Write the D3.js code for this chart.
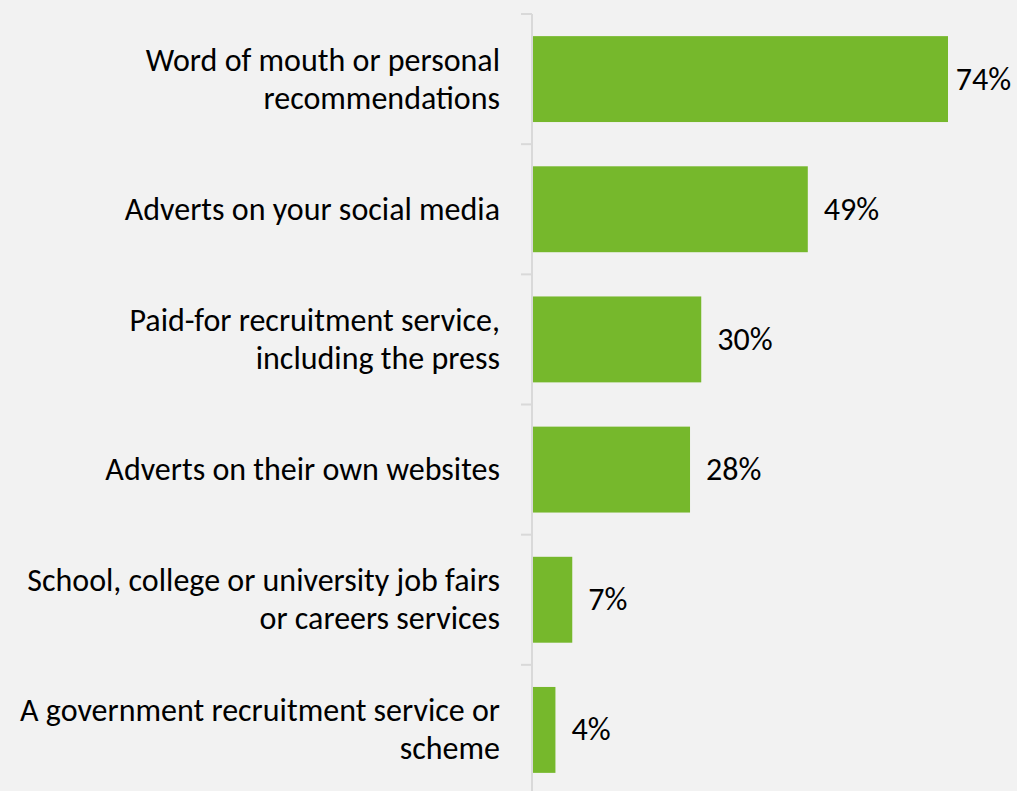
<!DOCTYPE html>
<html>
<head>
<meta charset="utf-8">
<script src="https://cdn.jsdelivr.net/npm/d3@7"></script>
<style>
  html, body { margin: 0; padding: 0; background: #f2f2f2; }
  svg { display: block; }
  text { font-family: Carlito, Calibri, Lato, sans-serif; fill: #000; }
</style>
</head>
<body>
<svg id="chart" width="1017" height="791"></svg>
<script>
// Recruitment channels used (share of respondents, %)
const categories = [
  ["Word of mouth or personal", "recommendations"],
  ["Adverts on your social media"],
  ["Paid-for recruitment service,", "including the press"],
  ["Adverts on their own websites"],
  ["School, college or university job fairs", "or careers services"],
  ["A government recruitment service or", "scheme"]
];
const values = [74, 49, 30, 28, 7, 4];
const valueLabels = ["74%", "49%", "30%", "28%", "7%", "4%"];

const svg = d3.select("#chart");
const width = 1017;
const axisX = 532;
const barColor = "#76b82c";
const fontSize = 32;
const lineGap = 38;

const y = d3.scaleBand()
  .domain(d3.range(categories.length))
  .range([14, 795])
  .paddingInner(0.34)
  .paddingOuter(0.17);

const x = d3.scaleLinear()
  .domain([0, 74])
  .range([axisX + 1, 948]);

// Bars
svg.append("g")
  .selectAll("rect")
  .data(values)
  .join("rect")
  .attr("x", x(0))
  .attr("y", (d, i) => y(i))
  .attr("width", d => x(d) - x(0))
  .attr("height", y.bandwidth())
  .attr("fill", barColor);

// Category axis: vertical line with ticks at band boundaries
const step = y.step();
const bandStart = i => y(i) - y.paddingOuter() * step;
const axisG = svg.append("g").attr("stroke", "#d9d9d9").attr("stroke-width", 2);
axisG.append("line")
  .attr("x1", axisX).attr("x2", axisX)
  .attr("y1", bandStart(0)).attr("y2", 791);
axisG.selectAll("line.tick")
  .data(d3.range(categories.length))
  .join("line")
  .attr("class", "tick")
  .attr("x1", axisX - 11).attr("x2", axisX)
  .attr("y1", i => bandStart(i)).attr("y2", i => bandStart(i));

// Category labels, right-aligned left of the axis
const labels = svg.append("g")
  .selectAll("text")
  .data(categories)
  .join("text")
  .attr("text-anchor", "end")
  .attr("font-size", fontSize)
  .attr("x", 500)
  .attr("y", (d, i) => y(i) + y.bandwidth() / 2);
labels.each(function(lines) {
  const t = d3.select(this);
  const first = -(lines.length - 1) / 2 * lineGap;
  lines.forEach((ln, k) => {
    t.append("tspan")
      .attr("x", 500)
      .attr("dy", k === 0 ? first : lineGap)
      .attr("dominant-baseline", "central")
      .text(ln);
  });
});

// Value labels at bar ends, kept inside the right edge
svg.append("g")
  .selectAll("text")
  .data(values)
  .join("text")
  .attr("font-size", fontSize)
  .attr("y", (d, i) => y(i) + y.bandwidth() / 2)
  .attr("dominant-baseline", "central")
  .text((d, i) => valueLabels[i])
  .attr("x", function(d) {
    const w = this.getComputedTextLength();
    return Math.min(x(d) + 16, width - 6 - w);
  });
</script>
</body>
</html>
